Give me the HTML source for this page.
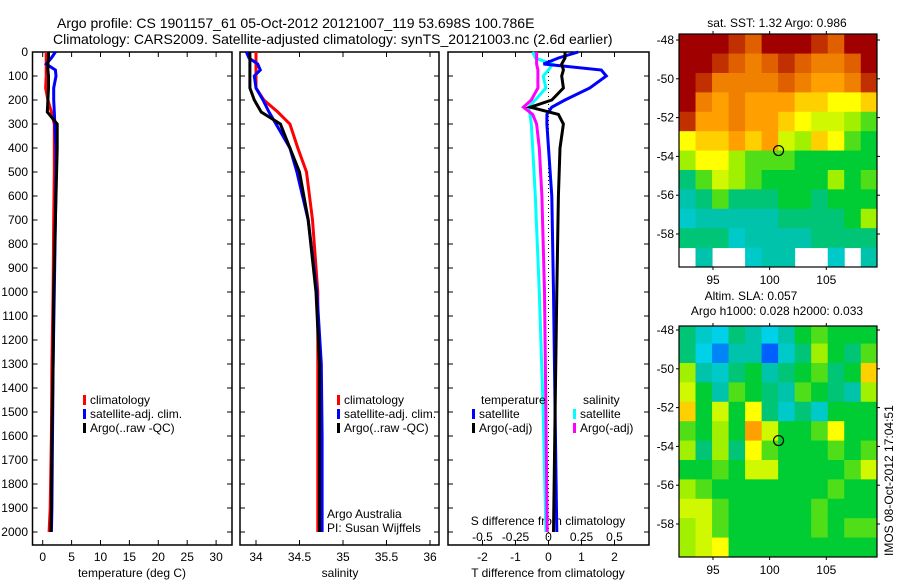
<!DOCTYPE html>
<html><head><meta charset="utf-8"><style>
body{margin:0;background:#fff;}
svg{display:block;font-family:"Liberation Sans",sans-serif;font-size:12px;}
</style></head><body>
<svg id="c" width="900" height="580" viewBox="0 0 900 580">
<text x="57" y="28" font-size="14">Argo profile: CS 1901157_61 05-Oct-2012 20121007_119 53.698S 100.786E</text>
<text x="53" y="44" font-size="14">Climatology: CARS2009. Satellite-adjusted climatology: synTS_20121003.nc (2.6d earlier)</text>
</svg>
<script>
// ---- data ----
const depthTS=[0,25,50,75,100,150,200,250,300,400,500,700,1000,1300,1600,1900,2000];
const tempArgo=[1.0,1.0,0.9,0.9,1.0,1.0,0.9,0.8,2.5,2.5,2.4,2.2,1.9,1.8,1.6,1.5,1.4];
const tempClim=[0.6,0.6,0.6,0.6,0.6,0.5,0.9,1.5,2.0,2.0,2.0,1.9,1.8,1.6,1.5,1.3,1.1];
const tempSat=[2.2,1.5,0.6,2.2,2.3,1.9,1.9,2.0,2.1,2.3,2.3,2.2,2.0,1.8,1.7,1.6,1.5];
const salArgo=[33.93,33.93,33.93,33.93,33.93,33.93,33.98,34.06,34.28,34.39,34.5,34.6,34.69,34.73,34.73,34.73,34.73];
const salClim=[34.0,34.0,34.0,34.0,34.0,34.0,34.09,34.25,34.39,34.48,34.58,34.65,34.71,34.71,34.71,34.71,34.71];
const salSat=[33.89,33.92,34.02,34.05,33.98,34.0,34.08,34.15,34.23,34.39,34.47,34.6,34.7,34.75,34.76,34.76,34.76];
const depthD=[0,25,50,75,100,150,200,230,260,300,400,600,1000,1500,2000];
const dTSat=[0.9,0.3,-0.15,1.6,1.75,1.25,0.5,0.1,-0.05,-0.05,0.0,0.1,0.15,0.2,0.25];
const dTArgo=[0.5,0.5,0.4,0.45,0.4,0.45,0.1,-0.55,0.3,0.45,0.35,0.3,0.25,0.2,0.15];
const dSArgo=[-0.09,-0.09,-0.09,-0.08,-0.08,-0.08,-0.13,-0.19,-0.12,-0.09,-0.07,-0.05,-0.03,-0.02,-0.01];
const dSSat=[-0.12,-0.1,0.03,0.0,-0.04,-0.02,-0.1,-0.15,-0.14,-0.13,-0.12,-0.1,-0.07,-0.04,-0.02];
const depthTicks=[0,100,200,300,400,500,600,700,800,900,1000,1100,1200,1300,1400,1500,1600,1700,1800,1900,2000];
const tempTicks=[0,5,10,15,20,25,30];
const salTicks=[34,34.5,35,35.5,36];
const dTTicks=[-2,-1,0,1,2];
const dSTicks=[-0.5,-0.25,0,0.25,0.5];
const dSTickLabels=["-0.5","-0.25","0","0.25","0.5"];
const lonTicks=[95,100,105];
const latTicks=[-48,-50,-52,-54,-56,-58];
const argoLon=100.786, argoLat=-53.698;
const sstGrid=[
[1,1,1,0.95,0.9,1,1,1,0.95,0.9,1,1],
[1,1,0.95,0.9,0.85,0.9,0.95,0.9,0.85,0.85,0.9,1],
[1,0.95,0.85,0.85,0.85,0.85,0.9,0.85,0.8,0.8,0.85,0.95],
[1,0.85,0.8,0.85,0.8,0.8,0.8,0.75,0.75,0.7,0.7,0.75],
[0.95,0.8,0.8,0.85,0.8,0.8,0.75,0.7,0.65,0.65,0.6,0.55],
[0.7,0.75,0.75,0.8,0.75,0.8,0.65,0.6,0.75,0.7,0.55,0.5],
[0.6,0.7,0.7,0.6,0.55,0.55,0.55,0.5,0.5,0.5,0.5,0.5],
[0.45,0.55,0.65,0.6,0.55,0.5,0.5,0.5,0.5,0.6,0.5,0.55],
[0.4,0.45,0.55,0.45,0.45,0.45,0.5,0.5,0.45,0.5,0.5,0.5],
[0.35,0.4,0.4,0.4,0.4,0.4,0.45,0.45,0.45,0.45,0.5,0.6],
[0.45,0.45,0.45,0.35,0.4,0.4,0.4,0.4,0.45,0.45,0.45,0.45],
[null,0.4,null,null,0.35,0.4,0.4,null,null,0.35,null,0.4]];
const slaGrid=[
[0.45,0.35,0.3,0.45,0.4,0.3,0.4,0.5,0.55,0.5,0.5,0.5],
[0.45,0.3,0.2,0.4,0.4,0.15,0.35,0.45,0.6,0.5,0.45,0.55],
[0.6,0.4,0.35,0.45,0.5,0.4,0.45,0.5,0.55,0.45,0.5,0.75],
[0.65,0.5,0.4,0.55,0.5,0.45,0.4,0.55,0.5,0.45,0.4,0.6],
[0.75,0.5,0.65,0.5,0.7,0.45,0.35,0.45,0.35,0.5,0.5,0.5],
[0.55,0.5,0.6,0.5,0.8,0.65,0.5,0.5,0.55,0.7,0.5,0.5],
[0.6,0.45,0.6,0.45,0.7,0.55,0.5,0.5,0.5,0.55,0.5,0.55],
[0.5,0.5,0.55,0.5,0.65,0.65,0.5,0.5,0.5,0.5,0.55,0.65],
[0.6,0.55,0.5,0.5,0.5,0.5,0.5,0.5,0.5,0.55,0.5,0.5],
[0.65,0.65,0.55,0.5,0.5,0.5,0.5,0.5,0.55,0.5,0.5,0.5],
[0.6,0.65,0.55,0.5,0.5,0.5,0.5,0.5,0.55,0.5,0.55,0.55],
[0.6,0.65,0.7,0.5,0.5,0.5,0.5,0.5,0.5,0.5,0.5,0.5]];

const svg=document.getElementById('c');
const NS='http://www.w3.org/2000/svg';
function mk(tag,attrs,parent){const e=document.createElementNS(NS,tag);for(const k in attrs)e.setAttribute(k,attrs[k]);(parent||svg).appendChild(e);return e;}
function txt(x,y,s,anchor,name){const t=mk('text',{x:x,y:y,'text-anchor':anchor||'start'});t.textContent=s;


return t;}

const yTop=52, yScale=0.24;
const yD=d=>yTop+d*yScale;
const PB=545;
function panel(x0,x1,name){
 const r=mk('rect',{x:x0,y:yTop,width:x1-x0,height:PB-yTop,fill:'none',stroke:'#000','stroke-width':1.5});
 
 
 for(const d of depthTicks){
  const l=mk('line',{x1:x0,x2:x0+5,y1:yD(d),y2:yD(d),stroke:'#000'});
  
  
  mk('line',{x1:x1,x2:x1-5,y1:yD(d),y2:yD(d),stroke:'#000'});
 }
}
function xTicks(x0,x1,ticks,xf,labels,name){
 ticks.forEach((v,i)=>{const x=xf(v);
  mk('line',{x1:x,x2:x,y1:PB,y2:PB-5,stroke:'#000'});
  mk('line',{x1:x,x2:x,y1:yTop,y2:yTop+5,stroke:'#000'});
  txt(x,561,labels?labels[i]:String(v),'middle',name);});
}
function line(xs,ds,xf,color,name){
 const pts=xs.map((v,i)=>xf(v).toFixed(1)+','+yD(ds[i]).toFixed(1)).join(' ');
 const p=mk('polyline',{points:pts,fill:'none',stroke:color,'stroke-width':3});
 
 
}
function legend(x,y,color,label,name){
 mk('rect',{x:x,y:y-9,width:3,height:10,fill:color});
 txt(x+7,y,label,'start',name);
}

// panel 1 temperature
const xT=v=>42.7+5.78*v;
panel(32.5,232,'temperature-panel');
depthTicks.forEach(d=>txt(28,yD(d)+4,String(d),'end','depth-tick-label'));
xTicks(32.5,232,tempTicks,xT,null,'temperature-tick-label');
txt(132,577,'temperature (deg C)','middle','temperature-axis-title');
line(tempClim,depthTS,xT,'#ff0000','temp-climatology-line');
line(tempSat,depthTS,xT,'#0000ff','temp-satellite-line');
line(tempArgo,depthTS,xT,'#000000','temp-argo-line');
legend(83,404,'#ff0000','climatology','legend-climatology');
legend(83,418,'#0000ff','satellite-adj. clim.','legend-satellite');
legend(83,432,'#000000','Argo(..raw -QC)','legend-argo');

// panel 2 salinity
const xS=v=>256+87*(v-34);
panel(240,439,'salinity-panel');
xTicks(240,439,salTicks,xS,null,'salinity-tick-label');
txt(340,577,'salinity','middle','salinity-axis-title');
line(salClim,depthTS,xS,'#ff0000','sal-climatology-line');
line(salSat,depthTS,xS,'#0000ff','sal-satellite-line');
line(salArgo,depthTS,xS,'#000000','sal-argo-line');
legend(337,404,'#ff0000','climatology','legend-climatology-2');
legend(337,418,'#0000ff','satellite-adj. clim.','legend-satellite-2');
legend(337,432,'#000000','Argo(..raw -QC)','legend-argo-2');
txt(327,518,'Argo Australia','start','institution-label');
txt(327,532,'PI: Susan Wijffels','start','pi-label');

// panel 3 differences
const xdT=v=>548.5+33*v;
const xdS=v=>548.5+132*v;
panel(448,649,'difference-panel');
xTicks(448,649,dTTicks,xdT,null,'t-diff-tick-label');
dSTicks.forEach((v,i)=>txt(xdS(v),541,dSTickLabels[i],'middle','s-diff-tick-label'));
txt(548,525,'S difference from climatology','middle','s-diff-axis-title');
txt(548,577,'T difference from climatology','middle','t-diff-axis-title');
const zl=mk('line',{x1:xdT(0),x2:xdT(0),y1:yTop,y2:PB,stroke:'#000','stroke-dasharray':'1,3'});


line(dSSat,depthD,xdS,'#00ffff','s-satellite-line');
line(dSArgo,depthD,xdS,'#ff00ff','s-argo-line');
line(dTSat,depthD,xdT,'#0000ff','t-satellite-line');
line(dTArgo,depthD,xdT,'#000000','t-argo-line');
txt(481,404,'temperature','start','legend-temperature-header');
legend(472,418,'#0000ff','satellite','legend-t-satellite');
legend(472,432,'#000000','Argo(-adj)','legend-t-argo');
txt(583,404,'salinity','start','legend-salinity-header');
legend(573,418,'#00ffff','satellite','legend-s-satellite');
legend(573,432,'#ff00ff','Argo(-adj)','legend-s-argo');

// maps
const stops=[[0,[0,0,160]],[0.15,[0,96,255]],[0.3,[0,208,232]],[0.42,[0,192,160]],[0.5,[0,204,51]],[0.6,[160,240,0]],[0.7,[255,255,0]],[0.8,[255,160,0]],[0.9,[224,96,0]],[1,[160,0,0]]];
function cmap(v){for(let i=1;i<stops.length;i++){if(v<=stops[i][0]){const a=stops[i-1],b=stops[i];const t=(v-a[0])/(b[0]-a[0]);const c=a[1].map((x,k)=>Math.round(x+(b[1][k]-x)*t));return 'rgb('+c.join(',')+')';}}return 'rgb(160,0,0)';}
function map(x0,x1,y0,y1,latRef,grid,name){
 const lonX=l=>713+(l-95)*11.33;
 const latY=l=>latRef+(-48-l)*19.4;
 const lon0=92.0, lon1=109.5, lat0=-47.7, lat1=-59.7;
 const nr=grid.length,nc=grid[0].length;
 const cw=(lon1-lon0)/nc, ch=(lat0-lat1)/nr;
 const g=mk('g',{});
 
 
 grid.forEach((row,r)=>row.forEach((v,c)=>{if(v===null)return;
  const xa=Math.max(x0,lonX(lon0+c*cw)),xb=Math.min(x1,lonX(lon0+(c+1)*cw));
  const ya=Math.max(y0,latY(lat0-r*ch)),yb=Math.min(y1,latY(lat0-(r+1)*ch));
  const cell=mk('rect',{x:xa,y:ya,width:xb-xa+0.5,height:yb-ya+0.5,fill:cmap(v)},g);
  
  
 }));
 const fr=mk('rect',{x:x0,y:y0,width:x1-x0,height:y1-y0,fill:'none',stroke:'#000','stroke-width':1.2});
 
 
 latTicks.forEach(l=>{const y=latY(l);mk('line',{x1:x0-3,x2:x0,y1:y,y2:y,stroke:'#000'});mk('line',{x1:x1,x2:x1+3,y1:y,y2:y,stroke:'#000'});txt(x0-5,y+4,String(l),'end','lat-tick-label');});
 lonTicks.forEach(l=>{const x=lonX(l);mk('line',{x1:x,x2:x,y1:y1,y2:y1+3,stroke:'#000'});mk('line',{x1:x,x2:x,y1:y0-3,y2:y0,stroke:'#000'});txt(x,y1+17,String(l),'middle','lon-tick-label');});
 const ci=mk('circle',{cx:lonX(argoLon),cy:latY(argoLat),r:5,fill:'none',stroke:'#000','stroke-width':1.2});
 
 
}
map(679,877,34,267,40,sstGrid,'sst-map');
txt(777,27,'sat. SST: 1.32 Argo: 0.986','middle','sst-map-title');
map(679,877,326,557,330,slaGrid,'sla-map');
txt(751,300,'Altim. SLA: 0.057','middle','sla-map-title');
txt(777,315,'Argo h1000: 0.028 h2000: 0.033','middle','sla-map-subtitle');
const ts=txt(0,0,'IMOS 08-Oct-2012 17:04:51','start','timestamp-label');
ts.setAttribute('transform','translate(893,556) rotate(-90)');
</script>
</body></html>
